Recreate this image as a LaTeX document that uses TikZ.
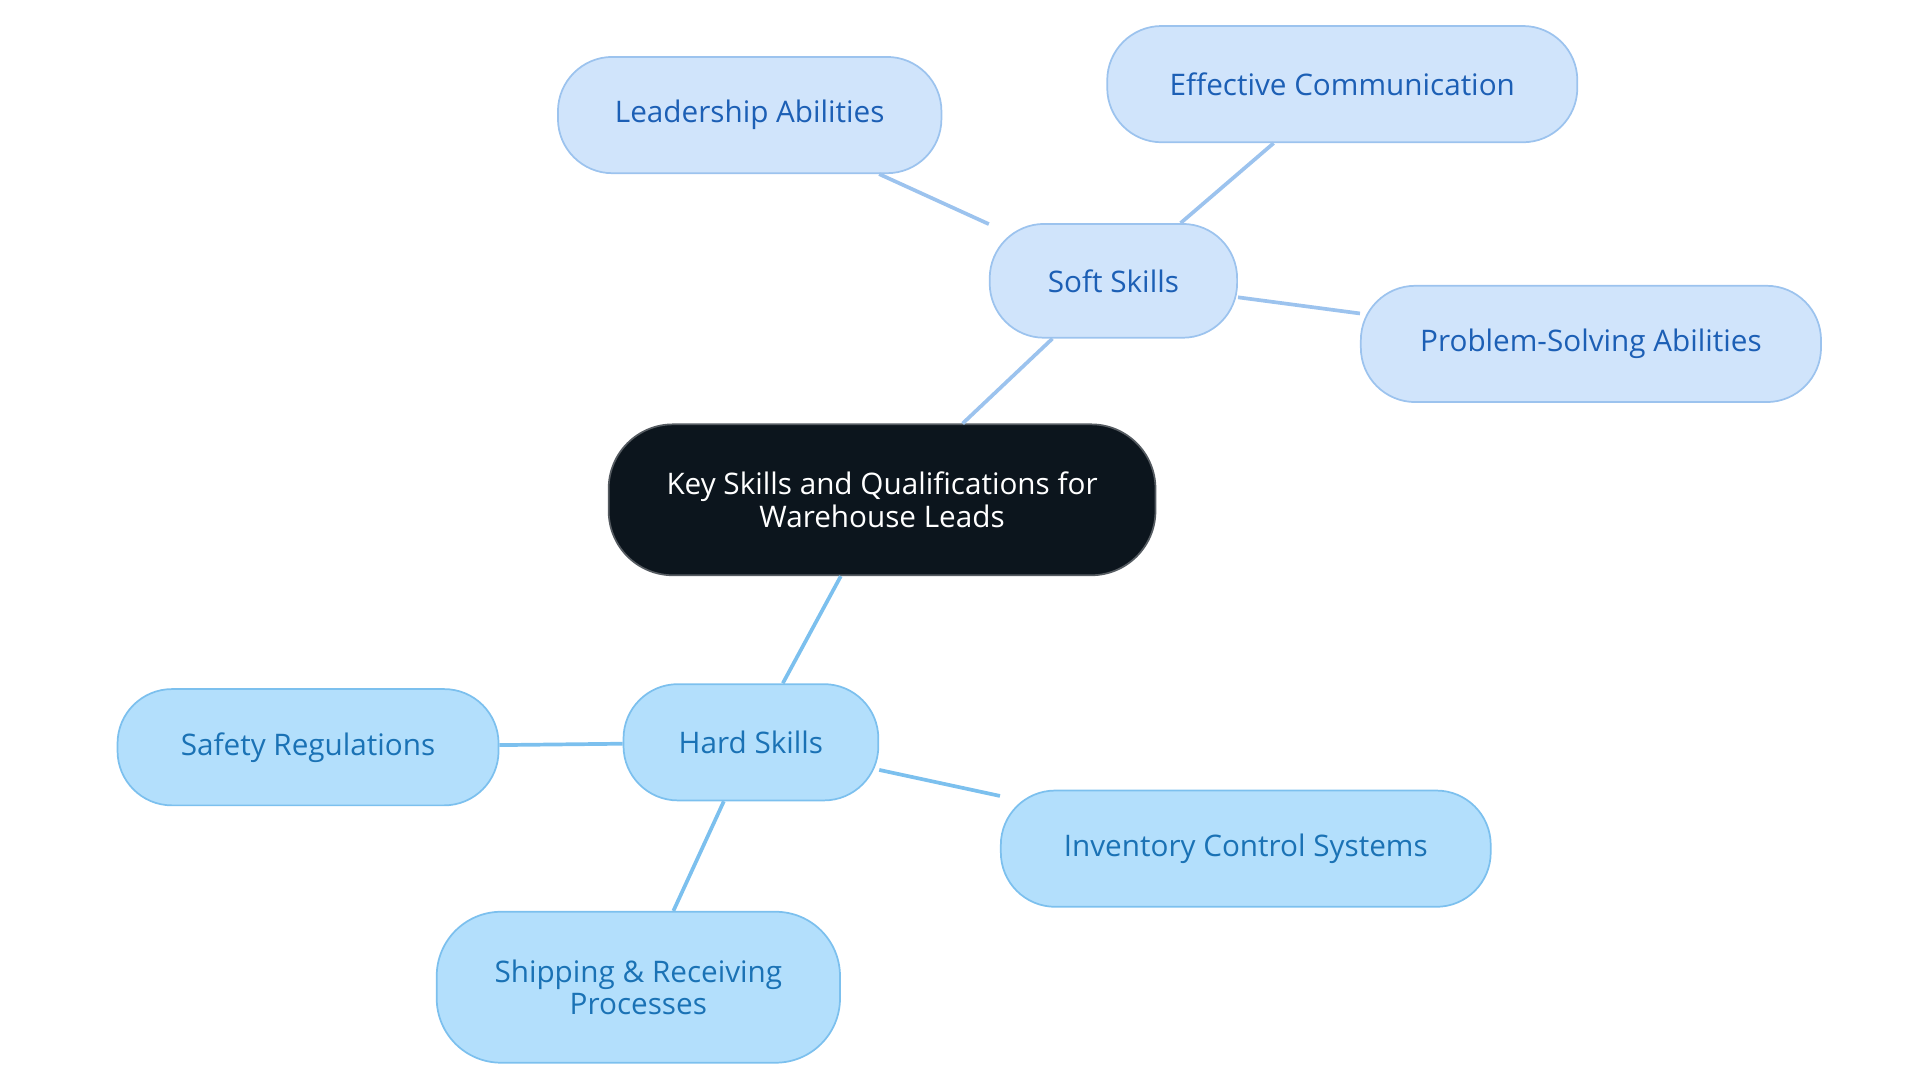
\documentclass[tikz,border=0pt]{standalone}
\usepackage{fontspec}
\setmainfont{Open Sans}
\definecolor{sfill}{HTML}{D0E4FB}
\definecolor{sdraw}{HTML}{9CC3EE}
\definecolor{stext}{HTML}{1C5FB5}
\definecolor{hfill}{HTML}{B3DFFC}
\definecolor{hdraw}{HTML}{7CC0EE}
\definecolor{htext}{HTML}{1A72B5}
\definecolor{rfill}{HTML}{0C151D}
\begin{document}
\begin{tikzpicture}[x=0.5pt,y=-0.5pt,
 box/.style={rounded corners=22pt,inner sep=0pt,align=center,font=\fontsize{12}{13}\selectfont,line width=0.7pt},
 soft/.style={box,fill=sfill,draw=sdraw,text=stext},
 hard/.style={box,fill=hfill,draw=hdraw,text=htext},
 sl/.style={draw=sdraw,line width=1.5pt},
 hl/.style={draw=hdraw,line width=1.5pt}]
\useasboundingbox (0,0) rectangle (1552,875);
\node[box,fill=rfill,draw=rfill!70!white,text=white,minimum width=221pt,minimum height=61pt,rounded corners=26pt] (root) at (713,404) {Key Skills and Qualifications for\\Warehouse Leads};
\node[soft,minimum width=100pt,minimum height=46pt] (soft) at (900,227) {Soft Skills};
\node[soft,minimum width=155pt,minimum height=47pt] (lead) at (606,93) {Leadership Abilities};
\node[soft,minimum width=190pt,minimum height=47pt] (eff) at (1085,68) {Effective Communication};
\node[soft,minimum width=186pt,minimum height=47pt] (prob) at (1286,278) {Problem-Solving Abilities};
\node[hard,minimum width=103pt,minimum height=47pt] (hardn) at (607,600) {Hard Skills};
\node[hard,minimum width=154pt,minimum height=47pt] (safe) at (249,604) {Safety Regulations};
\node[hard,minimum width=198pt,minimum height=47pt] (inv) at (1007,686) {Inventory Control Systems};
\node[hard,minimum width=163pt,minimum height=61pt,rounded corners=26pt] (ship) at (516,798) {Shipping \& Receiving\\Processes};
\begin{scope}[on background layer/.style={}]
\end{scope}
\path[sl] (root) -- (soft);
\path[sl] (soft) -- (lead);
\path[sl] (soft) -- (eff);
\path[sl] (soft) -- (prob);
\path[hl] (root) -- (hardn);
\path[hl] (hardn) -- (safe);
\path[hl] (hardn) -- (inv);
\path[hl] (hardn) -- (ship);
\end{tikzpicture}
\end{document}
